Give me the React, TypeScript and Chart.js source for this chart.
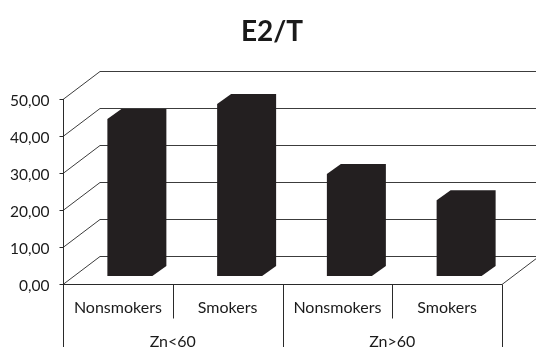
import React, { useEffect, useRef } from "react";
import { Chart, registerables } from "chart.js";

Chart.register(...registerables);

const categories = ["Nonsmokers", "Smokers", "Nonsmokers", "Smokers"];
const groups = ["Zn<60", "Zn>60"];
const values = [42.4, 46.5, 27.6, 20.5];
const titleText = "E2/T";
const yMin = 0;
const yMax = 50;
const yStep = 10;

const DX = 37; // depth offset of back wall
const DY = -28;
const OX = 12; // bar front-face depth offset
const OY = -8;
const BDX = 14; // bar depth
const BDY = -10;
const FONT = "Lato, 'Open Sans', sans-serif";

const fmt = (v: number) => v.toFixed(2).replace(".", ",");

const threeD = {
  id: "threeD",
  beforeDatasetsDraw(chart: any) {
    const { ctx, chartArea } = chart;
    const { left, right, bottom } = chartArea;
    const y = chart.scales.y;
    ctx.save();
    ctx.strokeStyle = "#3c3c3c";
    ctx.lineWidth = 1;
    const line = (x1: number, y1: number, x2: number, y2: number) => {
      ctx.beginPath();
      ctx.moveTo(x1, y1);
      ctx.lineTo(x2, y2);
      ctx.stroke();
    };
    y.ticks.forEach((t: any) => {
      const py = Math.round(y.getPixelForValue(t.value)) + 0.5;
      line(left, py, left + DX, py + DY);
      line(left + DX, py + DY, right + DX, py + DY);
    });
    const pb = Math.round(bottom) + 0.5;
    line(right, pb, right + DX, pb + DY);

    const meta = chart.getDatasetMeta(0);
    const color = chart.data.datasets[0].backgroundColor;
    meta.data.forEach((el: any) => {
      const { x, y: top, base, width } = el.getProps(["x", "y", "base", "width"], true);
      const l = x - width / 2 + OX;
      const r = x + width / 2 + OX;
      const t = top + OY;
      const b = base + OY;
      ctx.beginPath();
      ctx.moveTo(l, b);
      ctx.lineTo(l, t);
      ctx.lineTo(l + BDX, t + BDY);
      ctx.lineTo(r + BDX, t + BDY);
      ctx.lineTo(r + BDX, b + BDY);
      ctx.lineTo(r, b);
      ctx.closePath();
      ctx.fillStyle = color;
      ctx.fill();
    });
    ctx.restore();
    return false;
  },
  afterDraw(chart: any) {
    const { ctx, chartArea, height: ch } = chart;
    const { left, right, top, bottom } = chartArea;
    const y = chart.scales.y;
    const x = chart.scales.x;
    ctx.save();
    ctx.strokeStyle = "#2a2a2a";
    ctx.lineWidth = 1;
    const line = (x1: number, y1: number, x2: number, y2: number) => {
      ctx.beginPath();
      ctx.moveTo(x1, y1);
      ctx.lineTo(x2, y2);
      ctx.stroke();
    };
    const lx = Math.round(left) + 0.5;
    const pb = Math.round(bottom) + 0.5;
    // y axis line (continues into category box)
    line(lx, Math.round(top), lx, ch);
    // floor front edge
    line(left, pb, right, pb);
    // ticks + labels
    ctx.fillStyle = "#1a1a1a";
    ctx.font = `15.5px ${FONT}`;
    ctx.textAlign = "right";
    ctx.textBaseline = "middle";
    y.ticks.forEach((t: any) => {
      const py = Math.round(y.getPixelForValue(t.value)) + 0.5;
      line(lx - 4, py, lx, py);
      ctx.fillText(fmt(t.value), lx - 14, py + 1);
    });
    // category boxes
    const n = categories.length;
    const catW = (right - left) / n;
    for (let i = 0; i <= n; i++) {
      const bx = Math.round(left + catW * i) + 0.5;
      if (i % 2 === 0) line(bx, pb, bx, ch);
      else line(bx, pb, bx, pb + 34);
    }
    ctx.textAlign = "center";
    ctx.font = `16px ${FONT}`;
    categories.forEach((c, i) => {
      ctx.fillText(c, x.getPixelForValue(i), pb + 23);
    });
    groups.forEach((g, i) => {
      const cx = (x.getPixelForValue(i * 2) + x.getPixelForValue(i * 2 + 1)) / 2;
      ctx.fillText(g, cx, pb + 57);
    });
    // title
    ctx.font = `bold 28px ${FONT}`;
    ctx.textBaseline = "alphabetic";
    ctx.fillText(titleText, 272, 41);
    ctx.restore();
  },
};

export default function App() {
  const ref = useRef<HTMLCanvasElement>(null);
  useEffect(() => {
    if (!ref.current) return;
    const chart = new Chart(ref.current, {
      type: "bar",
      data: {
        labels: categories,
        datasets: [
          {
            data: values,
            backgroundColor: "#231f20",
            barPercentage: 0.41,
            categoryPercentage: 1.0,
          },
        ],
      },
      options: {
        responsive: false,
        animation: false,
        layout: { padding: { left: 63, right: 34, top: 99, bottom: 63 } },
        scales: {
          x: { type: "category", display: false, offset: true },
          y: { display: false, min: yMin, max: yMax, ticks: { stepSize: yStep } },
        },
        plugins: {
          legend: { display: false },
          tooltip: { enabled: false },
          title: { display: false },
        },
      },
      plugins: [threeD],
    });
    return () => chart.destroy();
  }, []);
  return (
    <div style={{ position: "fixed", left: 0, top: 0, width: 536, height: 347, background: "#fff" }}>
      <canvas ref={ref} width={536} height={347} style={{ width: 536, height: 347 }} />
    </div>
  );
}
